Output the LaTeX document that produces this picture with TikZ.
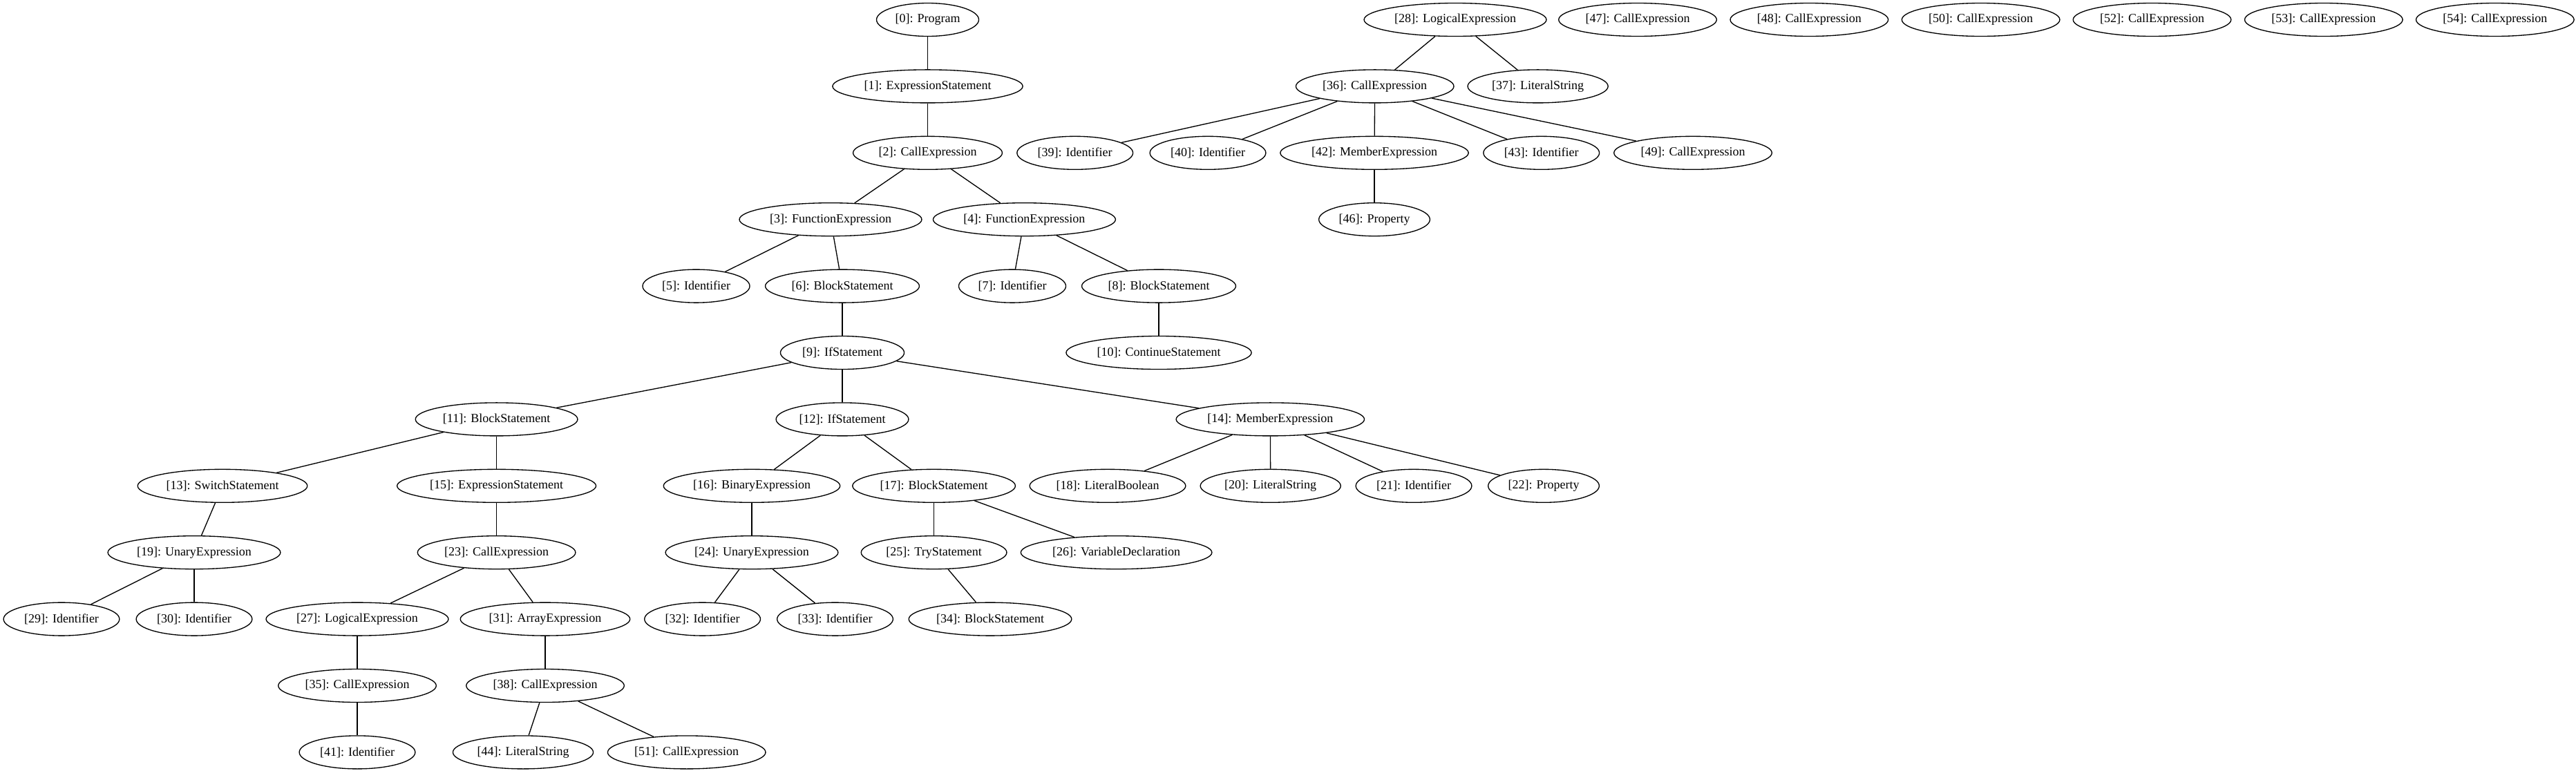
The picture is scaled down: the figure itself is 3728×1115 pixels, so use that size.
\documentclass[tikz,border=0pt]{standalone}
\usepackage{fontspec}
\setmainfont{Liberation Serif}
\usetikzlibrary{shapes.geometric}

\begin{document}
\begin{tikzpicture}[x=0.75pt, y=-0.75pt, font=\fontsize{13.5}{16}\selectfont] % pixel grid of the layout
\tikzstyle{astnode} = [ellipse, draw=black, line width=1pt, inner xsep=4pt, inner ysep=2pt, minimum height=36pt, minimum width=54pt]
\tikzstyle{link} = [draw=black, line width=1pt]

\useasboundingbox (0,0) rectangle (3728,1115);

% Rank 0: roots
\node[astnode] (Prog0) at (1342.5, 28.5) {[0]: Program};
\node[astnode] (Logical28) at (2106, 28.5) {[28]: LogicalExpression};
\node[astnode] (Call47) at (2370, 28.5) {[47]: CallExpression};
\node[astnode] (Call48) at (2618.3, 28.5) {[48]: CallExpression};
\node[astnode] (Call50) at (2866.6, 28.5) {[50]: CallExpression};
\node[astnode] (Call52) at (3114.5, 28.5) {[52]: CallExpression};
\node[astnode] (Call53) at (3362.8, 28.5) {[53]: CallExpression};
\node[astnode] (Call54) at (3610.8, 28.5) {[54]: CallExpression};

% Rank 1
\node[astnode] (ExprStmt1) at (1342.5, 124.9) {[1]: ExpressionStatement};
\node[astnode] (Call36) at (1989.7, 124.9) {[36]: CallExpression};
\node[astnode] (LitStr37) at (2225.6, 124.9) {[37]: LiteralString};

% Rank 2
\node[astnode] (Call2) at (1342.5, 221.3) {[2]: CallExpression};
\node[astnode] (Ident39) at (1555.7, 221.3) {[39]: Identifier};
\node[astnode] (Ident40) at (1748, 221.3) {[40]: Identifier};
\node[astnode] (Member42) at (1989, 221.3) {[42]: MemberExpression};
\node[astnode] (Ident43) at (2230.7, 221.3) {[43]: Identifier};
\node[astnode] (Call49) at (2450, 221.3) {[49]: CallExpression};

% Rank 3
\node[astnode] (FuncExpr3) at (1202, 317.7) {[3]: FunctionExpression};
\node[astnode] (FuncExpr4) at (1482.4, 317.7) {[4]: FunctionExpression};
\node[astnode] (Prop46) at (1989, 317.7) {[46]: Property};

% Rank 4
\node[astnode] (Ident5) at (1007.5, 414.1) {[5]: Identifier};
\node[astnode] (Block6) at (1219, 414.1) {[6]: BlockStatement};
\node[astnode] (Ident7) at (1465, 414.1) {[7]: Identifier};
\node[astnode] (Block8) at (1677, 414.1) {[8]: BlockStatement};

% Rank 5
\node[astnode] (If9) at (1219, 510.5) {[9]: IfStatement};
\node[astnode] (Continue10) at (1677, 510.5) {[10]: ContinueStatement};

% Rank 6
\node[astnode] (Block11) at (718.6, 606.9) {[11]: BlockStatement};
\node[astnode] (If12) at (1219, 606.9) {[12]: IfStatement};
\node[astnode] (Member14) at (1838.3, 606.9) {[14]: MemberExpression};

% Rank 7
\node[astnode] (Switch13) at (322, 703.3) {[13]: SwitchStatement};
\node[astnode] (ExprStmt15) at (718.6, 703.3) {[15]: ExpressionStatement};
\node[astnode] (Binary16) at (1088, 703.3) {[16]: BinaryExpression};
\node[astnode] (Block17) at (1351.6, 703.3) {[17]: BlockStatement};
\node[astnode] (LitBool18) at (1603, 703.3) {[18]: LiteralBoolean};
\node[astnode] (LitStr20) at (1838.7, 703.3) {[20]: LiteralString};
\node[astnode] (Ident21) at (2046, 703.3) {[21]: Identifier};
\node[astnode] (Prop22) at (2234, 703.3) {[22]: Property};

% Rank 8
\node[astnode] (Unary19) at (281, 799.7) {[19]: UnaryExpression};
\node[astnode] (Call23) at (718.6, 799.7) {[23]: CallExpression};
\node[astnode] (Unary24) at (1088, 799.7) {[24]: UnaryExpression};
\node[astnode] (Try25) at (1351.6, 799.7) {[25]: TryStatement};
\node[astnode] (VarDecl26) at (1615.6, 799.7) {[26]: VariableDeclaration};

% Rank 9
\node[astnode] (Ident29) at (89, 896.1) {[29]: Identifier};
\node[astnode] (Ident30) at (281, 896.1) {[30]: Identifier};
\node[astnode] (Logical27) at (517, 896.1) {[27]: LogicalExpression};
\node[astnode] (Array31) at (789, 896.1) {[31]: ArrayExpression};
\node[astnode] (Ident32) at (1016.6, 896.1) {[32]: Identifier};
\node[astnode] (Ident33) at (1208.5, 896.1) {[33]: Identifier};
\node[astnode] (Block34) at (1433, 896.1) {[34]: BlockStatement};

% Rank 10
\node[astnode] (Call35) at (517, 992.5) {[35]: CallExpression};
\node[astnode] (Call38) at (789, 992.5) {[38]: CallExpression};

% Rank 11
\node[astnode] (Ident41) at (517, 1088.9) {[41]: Identifier};
\node[astnode] (LitStr44) at (757, 1088.9) {[44]: LiteralString};
\node[astnode] (Call51) at (993.7, 1088.9) {[51]: CallExpression};

% Draw the tree edges (no arrow heads)
\draw[link] (Prog0) -- (ExprStmt1);
\draw[link] (ExprStmt1) -- (Call2);
\draw[link] (Call2) -- (FuncExpr3);
\draw[link] (Call2) -- (FuncExpr4);

\draw[link] (FuncExpr3) -- (Ident5);
\draw[link] (FuncExpr3) -- (Block6);
\draw[link] (FuncExpr4) -- (Ident7);
\draw[link] (FuncExpr4) -- (Block8);
\draw[link] (Block6) -- (If9);
\draw[link] (Block8) -- (Continue10);

\draw[link] (If9) -- (Block11);
\draw[link] (If9) -- (If12);
\draw[link] (If9) -- (Member14);

\draw[link] (Block11) -- (Switch13);
\draw[link] (Block11) -- (ExprStmt15);
\draw[link] (If12) -- (Binary16);
\draw[link] (If12) -- (Block17);
\draw[link] (Member14) -- (LitBool18);
\draw[link] (Member14) -- (LitStr20);
\draw[link] (Member14) -- (Ident21);
\draw[link] (Member14) -- (Prop22);

\draw[link] (Switch13) -- (Unary19);
\draw[link] (ExprStmt15) -- (Call23);
\draw[link] (Binary16) -- (Unary24);
\draw[link] (Block17) -- (Try25);
\draw[link] (Block17) -- (VarDecl26);

\draw[link] (Unary19) -- (Ident29);
\draw[link] (Unary19) -- (Ident30);
\draw[link] (Call23) -- (Logical27);
\draw[link] (Call23) -- (Array31);
\draw[link] (Unary24) -- (Ident32);
\draw[link] (Unary24) -- (Ident33);
\draw[link] (Try25) -- (Block34);

\draw[link] (Logical27) -- (Call35);
\draw[link] (Array31) -- (Call38);
\draw[link] (Call35) -- (Ident41);
\draw[link] (Call38) -- (LitStr44);
\draw[link] (Call38) -- (Call51);

\draw[link] (Logical28) -- (Call36);
\draw[link] (Logical28) -- (LitStr37);
\draw[link] (Call36) -- (Ident39);
\draw[link] (Call36) -- (Ident40);
\draw[link] (Call36) -- (Member42);
\draw[link] (Call36) -- (Ident43);
\draw[link] (Call36) -- (Call49);
\draw[link] (Member42) -- (Prop46);

\end{tikzpicture}
\end{document}
